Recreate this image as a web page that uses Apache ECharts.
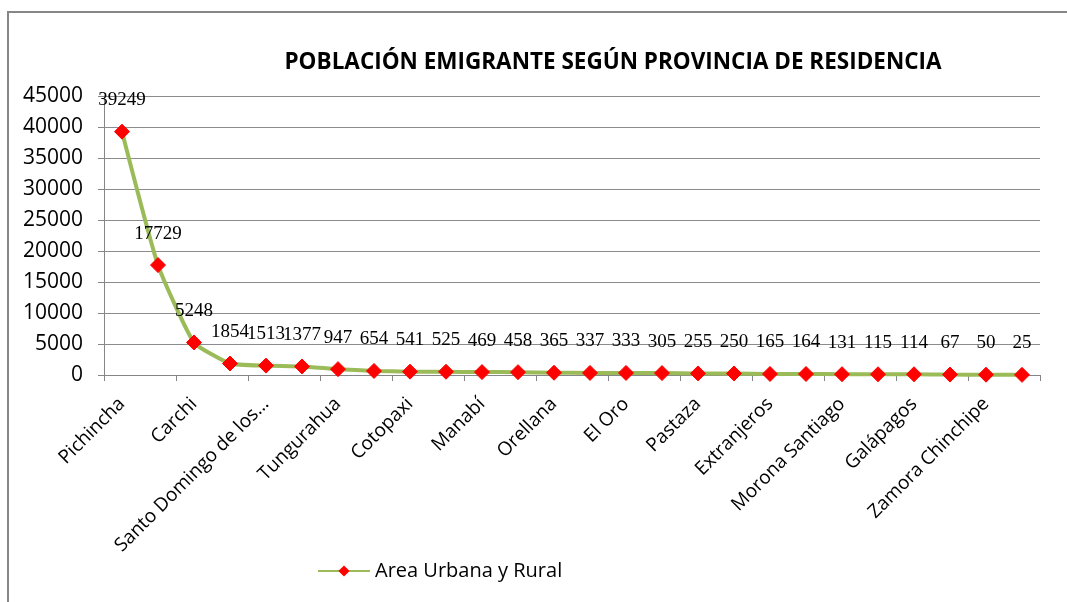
<!DOCTYPE html>
<html>
<head>
<meta charset="utf-8">
<script src="https://cdn.jsdelivr.net/npm/echarts@6/dist/echarts.min.js"></script>
<style>
  html, body { margin: 0; padding: 0; background: #fff; }
  #chart { width: 1067px; height: 602px; }
</style>
</head>
<body>
<div id="chart"></div>
<script>
// provincias (solo se ve una de cada dos en el eje)
const provincias = [
    'Pichincha', 'Imbabura', 'Carchi', 'Esmeraldas',
    'Santo Domingo de los Tsáchilas', 'Guayas', 'Tungurahua', 'Chimborazo',
    'Cotopaxi', 'Azuay', 'Manabí', 'Loja', 'Orellana', 'Sucumbíos',
    'El Oro', 'Los Ríos', 'Pastaza', 'Napo', 'Extranjeros', 'Bolívar',
    'Morona Santiago', 'Cañar', 'Galápagos', 'Santa Elena',
    'Zamora Chinchipe', 'Zonas no delimitadas'
];
const poblacion = [
    39249, 17729, 5248, 1854, 1513, 1377, 947, 654, 541, 525, 469, 458, 365,
    337, 333, 305, 255, 250, 165, 164, 131, 115, 114, 67, 50, 25
];
const yTicks = { min: 0, max: 45000, interval: 5000 };

const chart = echarts.init(document.getElementById('chart'));

const option = {
    backgroundColor: '#fff',
    animation: false,
    title: {
        text: 'POBLACIÓN EMIGRANTE SEGÚN PROVINCIA DE RESIDENCIA',
        left: 608,
        top: 46,
        textAlign: 'center',
        textStyle: {
            fontFamily: 'Open Sans',
            fontWeight: 'bold',
            fontSize: 22.5,
            color: '#000'
        }
    },
    legend: {
        left: 312,
        top: 556,
        itemWidth: 52,
        itemHeight: 14,
        itemGap: 4,
        textStyle: { fontFamily: 'Open Sans', fontSize: 20, color: '#000' },
        data: ['Area Urbana y Rural']
    },
    grid: {
        left: 104,
        right: 27,
        top: 96,
        bottom: 227
    },
    xAxis: {
        type: 'category',
        data: provincias,
        boundaryGap: true,
        axisLine: { lineStyle: { color: '#868686', width: 1 } },
        axisTick: { show: true, length: 6, lineStyle: { color: '#868686' } },
        axisLabel: {
            interval: 1,
            rotate: 45,
            margin: 26,
            fontFamily: 'Open Sans',
            fontSize: 19,
            color: '#000',
            formatter: v => v.length > 20 ? v.slice(0, 20) + '…' : v
        }
    },
    yAxis: {
        type: 'value',
        min: yTicks.min,
        max: yTicks.max,
        interval: yTicks.interval,
        axisLine: { show: true, lineStyle: { color: '#868686' } },
        axisTick: { show: true, length: 6, lineStyle: { color: '#868686' } },
        axisLabel: {
            margin: 21,
            fontFamily: 'Open Sans',
            fontSize: 21,
            color: '#000',
            formatter: v => String(v)
        },
        splitLine: { lineStyle: { color: '#8c8c8c', width: 1 } }
    },
    series: [{
        name: 'Area Urbana y Rural',
        type: 'line',
        data: poblacion,
        smooth: 0.15,
        symbol: 'diamond',
        symbolSize: 15,
        itemStyle: { color: '#ff0000', borderColor: '#ff0000' },
        lineStyle: { color: '#9bbb59', width: 4 },
        label: {
            show: true,
            position: 'top',
            distance: 14,
            fontFamily: 'Liberation Serif',
            fontSize: 19,
            color: '#000'
        }
    }],
    graphic: [{
        type: 'rect',
        shape: { x: 8, y: 12, width: 1100, height: 700 },
        style: { fill: 'none', stroke: '#868686', lineWidth: 2 },
        silent: true
    }]
};

chart.setOption(option);
</script>
</body>
</html>
